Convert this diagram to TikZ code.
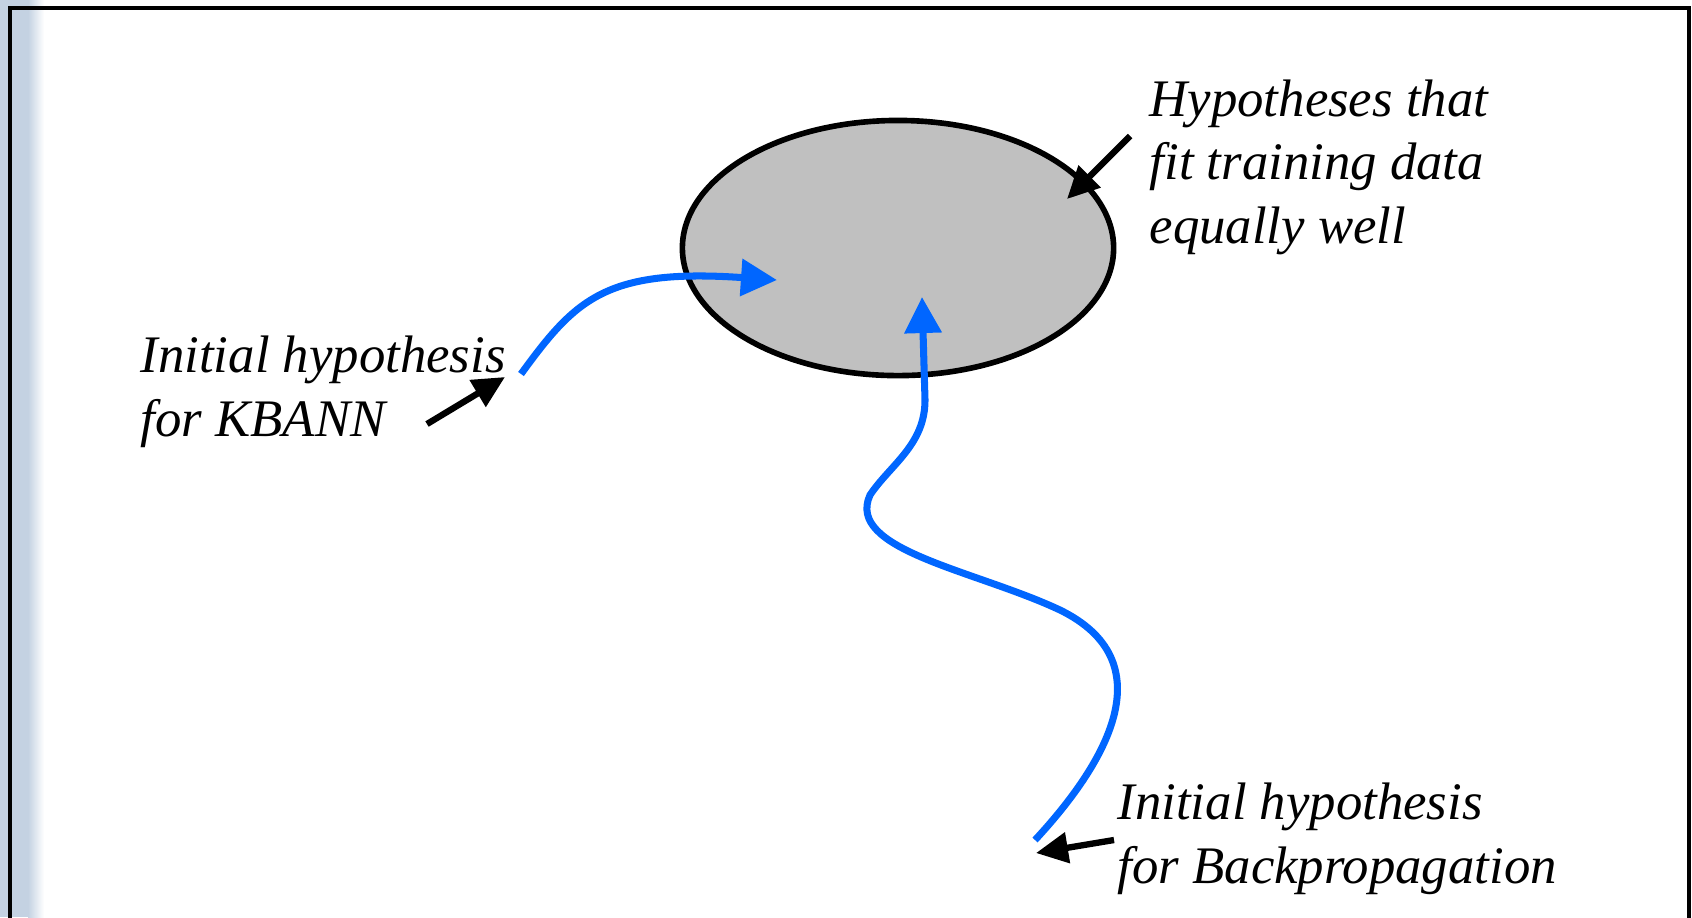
\documentclass[tikz,border=0pt]{standalone}
\usepackage{fontspec}
\setmainfont{Liberation Serif}
\usetikzlibrary{arrows.meta, positioning, shapes.geometric}
\definecolor{routeblue}{RGB}{0,102,255}
\definecolor{regiongray}{RGB}{192,192,192}
\definecolor{stripgray}{RGB}{196,210,226}

\begin{document}
\begin{tikzpicture}[
  x=0.01cm, y=-0.01cm,
  region/.style={draw, ellipse, fill=regiongray, line width=1.6pt, minimum width=4.31cm, minimum height=2.55cm, inner sep=0pt},
  note/.style={align=left, inner sep=0pt, anchor=base west, font=\fontsize{15}{18}\selectfont\itshape},
  pointer/.style={-{Triangle[length=0.32cm, width=0.3cm]}, line width=1.8pt},
  route/.style={-{Triangle[length=0.36cm, width=0.36cm]}, line width=2pt, routeblue}
]
\useasboundingbox (0,0) rectangle (1692,917);

% Slide background
\fill[stripgray] (0,0) rectangle (28,917);
\fill[left color=stripgray, right color=white] (28,0) rectangle (44,917);
\draw[line width=1.3pt] (10,940) -- (10,8) -- (1689,8) -- (1689,940);

% Nodes (base = last line)
\node[region] (fit) at (898,248) {};
\node[note] (hyp) at (1149,243) {Hypotheses that\\fit training data\\equally well};
\node[note] (kbann) at (140,436) {Initial hypothesis\\for KBANN};
\node[note] (backprop) at (1117,883) {Initial hypothesis\\for Backpropagation};

% Free ends
\coordinate (hypfrom) at (1130,136);
\coordinate (hypto) at ([shift={(169,-49)}]fit.center);
\coordinate (kbfrom) at (427,424);
\coordinate (kbto) at (505,377);
\coordinate (bpfrom) at (1114,840);
\coordinate (bpto) at (1036,853);
\coordinate (kbstart) at (521,374);
\coordinate (kbtip) at ([shift={(-121,32)}]fit.center);
\coordinate (bpstart) at (1035,840);
\coordinate (bptip) at ([shift={(24,49)}]fit.center);

% Arrows
\draw[pointer] (hypfrom) -- (hypto);
\draw[pointer] (kbfrom) -- (kbto);
\draw[pointer] (bpfrom) -- (bpto);

% Search paths
\draw[route] (kbstart) .. controls (575,300) and (605,268) .. (kbtip);
\draw[route] (bpstart) .. controls (1112,757) and (1162,660) .. (1060,610)
  .. controls (975,570) and (845,550) .. (870,495)
  .. controls (890,465) and (925,445) .. (925,400) -- (bptip);

\end{tikzpicture}
\end{document}
